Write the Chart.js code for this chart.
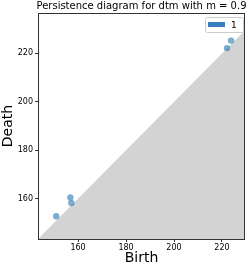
<!DOCTYPE html>
<html><head><meta charset="utf-8">
<script src="https://cdn.jsdelivr.net/npm/chart.js@4/dist/chart.umd.min.js"></script>
<style>html,body{margin:0;padding:0;background:#fff}#wrap{width:249px;height:267px;position:relative}</style>
</head><body><div id="wrap"><canvas id="c" width="249" height="267"></canvas></div>
<script>
const births = [150.9, 156.8, 157.2, 222.1, 223.8];
const deaths = [152.7, 160.5, 158.2, 222.2, 225.3];
const xTicks = [160, 180, 200, 220];
const yTicks = [160, 180, 200, 220];
const axisStart = 143.3;
const axisEnd = 229.6;
const yEnd = 236.7;
const legendLabels = ['1'];
const titleText = 'Persistence diagram for dtm with m = 0.9';

const FONT = 'DejaVu Sans';
const pts = births.map((b, i) => ({x: b, y: deaths[i]}));

const overlay = {
  id: 'overlay',
  afterDraw(chart) {
    const ctx = chart.ctx, a = chart.chartArea;
    ctx.save();
    ctx.strokeStyle = '#333';
    ctx.lineWidth = 1;
    ctx.strokeRect(Math.round(a.left) + 0.5, Math.round(a.top) + 0.5, Math.round(a.right - a.left) - 1, Math.round(a.bottom - a.top));
    // title
    ctx.fillStyle = '#000';
    ctx.font = '10px ' + FONT;
    ctx.textAlign = 'center';
    ctx.textBaseline = 'alphabetic';
    ctx.fillText(titleText, (a.left + a.right) / 2, a.top - 4);
    // legend
    const bw = 38, bh = 15;
    const bx = Math.round(a.right) - bw - 2, by = Math.round(a.top) + 4;
    ctx.fillStyle = 'rgba(255,255,255,0.8)';
    ctx.strokeStyle = '#ccc';
    ctx.beginPath();
    ctx.roundRect(bx + 0.5, by + 0.5, bw, bh, 2);
    ctx.fill(); ctx.stroke();
    ctx.fillStyle = '#3a7ebf';
    ctx.fillRect(bx + 3, by + 5, 17, 5);
    ctx.fillStyle = '#000';
    ctx.font = '9px ' + FONT;
    ctx.textAlign = 'left';
    ctx.textBaseline = 'middle';
    ctx.fillText(legendLabels[0], bx + 26, by + bh / 2 + 1);
    ctx.restore();
  }
};

new Chart(document.getElementById('c'), {
  type: 'scatter',
  data: {
    datasets: [
      {
        type: 'line',
        data: [{x: axisStart, y: axisStart}, {x: axisEnd, y: axisEnd}],
        borderWidth: 0,
        pointRadius: 0,
        fill: 'start',
        backgroundColor: '#d3d3d3',
        borderColor: 'rgba(0,0,0,0)',
        order: 2
      },
      {
        data: pts,
        pointRadius: 3.2,
        pointBackgroundColor: 'rgba(31,119,180,0.6)',
        pointBorderWidth: 0,
        backgroundColor: 'rgba(31,119,180,0.6)',
        order: 1
      }
    ]
  },
  options: {
    responsive: false,
    animation: false,
    devicePixelRatio: 1,
    layout: {padding: {left: 0, right: 3, top: 13, bottom: 0}},
    plugins: {legend: {display: false}, tooltip: {enabled: false}},
    scales: {
      x: {
        type: 'linear', min: axisStart, max: axisEnd,
        afterBuildTicks: s => { s.ticks = xTicks.map(v => ({value: v})); },
        afterFit: s => { s.height = 28; },
        grid: {display: true, drawOnChartArea: false, drawTicks: true, tickLength: 3, color: '#333'},
        border: {display: false},
        ticks: {color: '#000', font: {family: FONT, size: 8}, padding: 1, maxRotation: 0},
        title: {display: true, text: 'Birth', color: '#000', font: {family: FONT, size: 14}, padding: {top: 0, bottom: 0}}
      },
      y: {
        type: 'linear', min: axisStart, max: yEnd,
        afterBuildTicks: s => { s.ticks = yTicks.map(v => ({value: v})); },
        afterFit: s => { s.width = 38; },
        grid: {display: true, drawOnChartArea: false, drawTicks: true, tickLength: 3, color: '#333'},
        border: {display: false},
        ticks: {color: '#000', font: {family: FONT, size: 8}, padding: 2},
        title: {display: true, text: 'Death', color: '#000', font: {family: FONT, size: 14}, padding: {top: 0, bottom: 0}}
      }
    }
  },
  plugins: [overlay]
});
</script></body></html>
